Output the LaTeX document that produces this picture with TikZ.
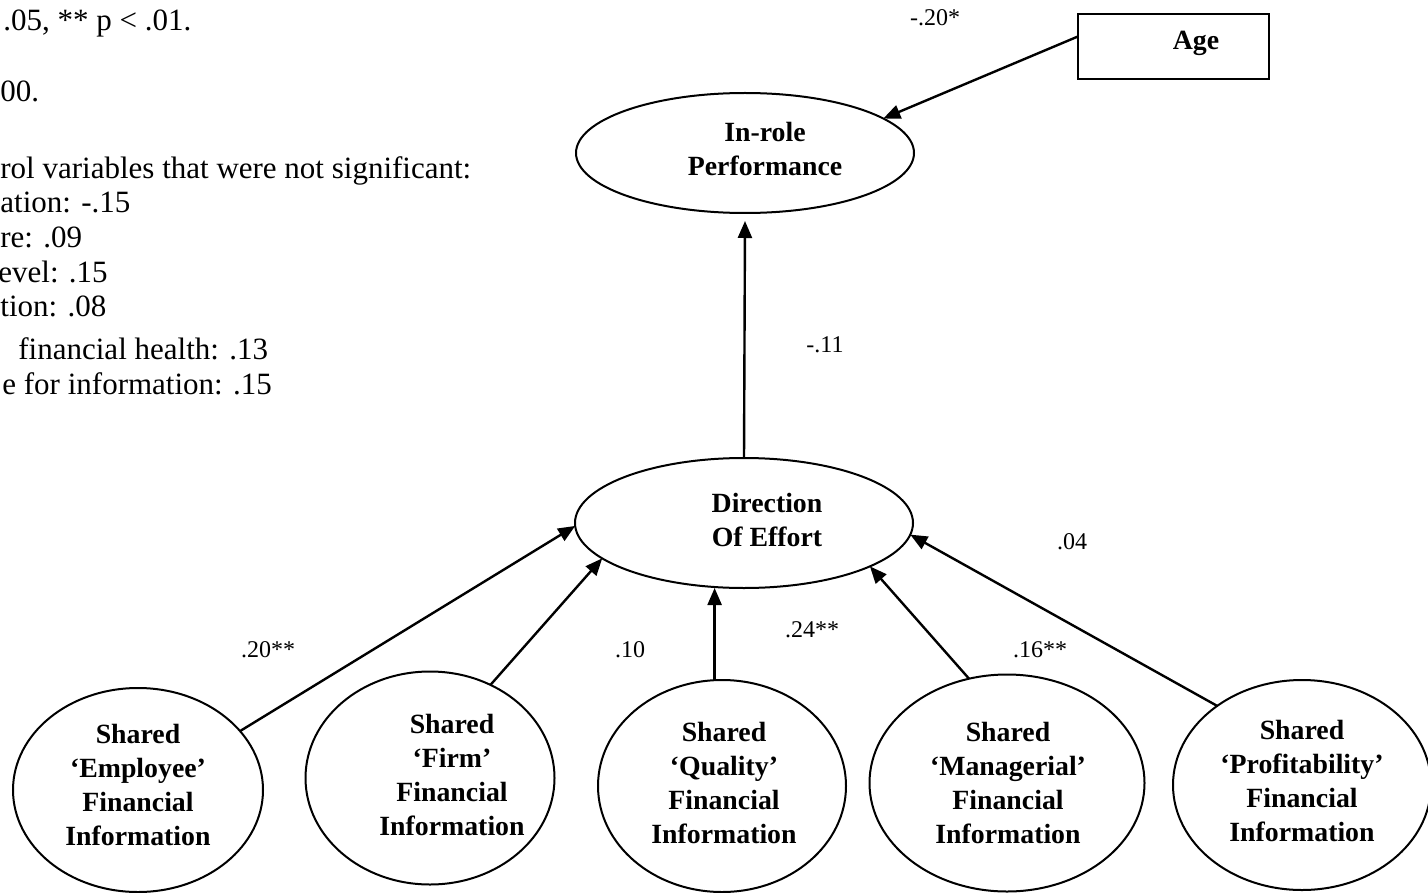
\documentclass[tikz,border=0pt]{standalone}
\usepackage{fontspec}
\setmainfont{Liberation Serif}
\usetikzlibrary{arrows.meta,shapes.geometric}
\begin{document}
\begin{tikzpicture}[x=0.5pt,y=-0.5pt,
  oval/.style={draw,ellipse,line width=1pt,inner sep=0pt,outer sep=0pt},
  box/.style={draw,rectangle,line width=1pt,inner sep=0pt,outer sep=0pt},
  txt/.style={font=\fontsize{13.9}{16.85}\selectfont\bfseries,align=center,inner sep=0pt},
  coef/.style={font=\fontsize{12}{14}\selectfont,inner sep=0pt},
  note/.style={font=\fontsize{15.5}{18}\selectfont,anchor=base west,inner sep=0pt},
  link/.style={line width=1.2pt,-{Triangle[length=8.5pt,width=7pt]}}]
\useasboundingbox (0,0) rectangle (1428,893);
\clip (0,0) rectangle (1428,893);

% notes block
\node[note] (n1) at (3,31) {.05, ** p < .01.};
\node[note] (n2) at (0,102) {00.};
\node[note] (n3) at (0,179) {rol variables that were not significant:};
\node[note] (n4) at (0,213) {ation: -.15};
\node[note] (n5) at (0,248) {re: .09};
\node[note] (n6) at (-2,282) {evel: .15};
\node[note] (n7) at (0,316) {tion: .08};
\node[note] (n8) at (18,359) {financial health: .13};
\node[note] (n9) at (2,394) {e for information: .15};

% constructs
\node[box, minimum width=95.5pt, minimum height=32.5pt] (age) at (1173.5,46.5) {};
\node[txt] (agetxt) at (1196,43) {Age};

\node[oval, minimum width=169pt, minimum height=60pt] (inrole) at (745,153) {};
\node[txt] (inroletxt) at (765,149) {In-role\\Performance};

\node[oval, minimum width=169pt, minimum height=65pt] (dir) at (744,523) {};
\node[txt] (dirtxt) at (767,520) {Direction\\Of Effort};

\node[oval, minimum width=125pt, minimum height=102pt] (emp) at (138,790) {};
\node[txt] (emptxt) at (138,785) {Shared\\‘Employee’\\Financial\\Information};

\node[oval, minimum width=124.5pt, minimum height=106.5pt] (firm) at (430,778) {};
\node[txt] (firmtxt) at (452,775) {Shared\\‘Firm’\\Financial\\Information};

\node[oval, minimum width=124pt, minimum height=106pt] (qual) at (722,786) {};
\node[txt] (qualtxt) at (724,783) {Shared\\‘Quality’\\Financial\\Information};

\node[oval, minimum width=137.5pt, minimum height=108.5pt] (mgr) at (1007,783) {};
\node[txt] (mgrtxt) at (1008,783) {Shared\\‘Managerial’\\Financial\\Information};

\node[oval, minimum width=129pt, minimum height=105pt] (prof) at (1302,785) {};
\node[txt] (proftxt) at (1302,781) {Shared\\‘Profitability’\\Financial\\Information};

% paths
\draw[link] (age.174) -- (inrole.14);
\draw[link] (dir.north) -- ([yshift=-4pt]inrole.south);
\draw[link] (emp.30) -- (dir.181);
\draw[link] (firm.57) -- (dir.194);
\draw[link] (qual.94) -- (qual.94 |- dir.south);
\draw[link] (mgr.110) -- (dir.341);
\draw[link] (prof.137) -- (dir.356);

% coefficients
\node[coef] (c1) at (935,18) {-.20*};
\node[coef] (c2) at (825,345) {-.11};
\node[coef] (c3) at (268,650) {.20**};
\node[coef] (c4) at (630,650) {.10};
\node[coef] (c5) at (812,630) {.24**};
\node[coef] (c6) at (1040,650) {.16**};
\node[coef] (c7) at (1072,542) {.04};
\end{tikzpicture}
\end{document}
